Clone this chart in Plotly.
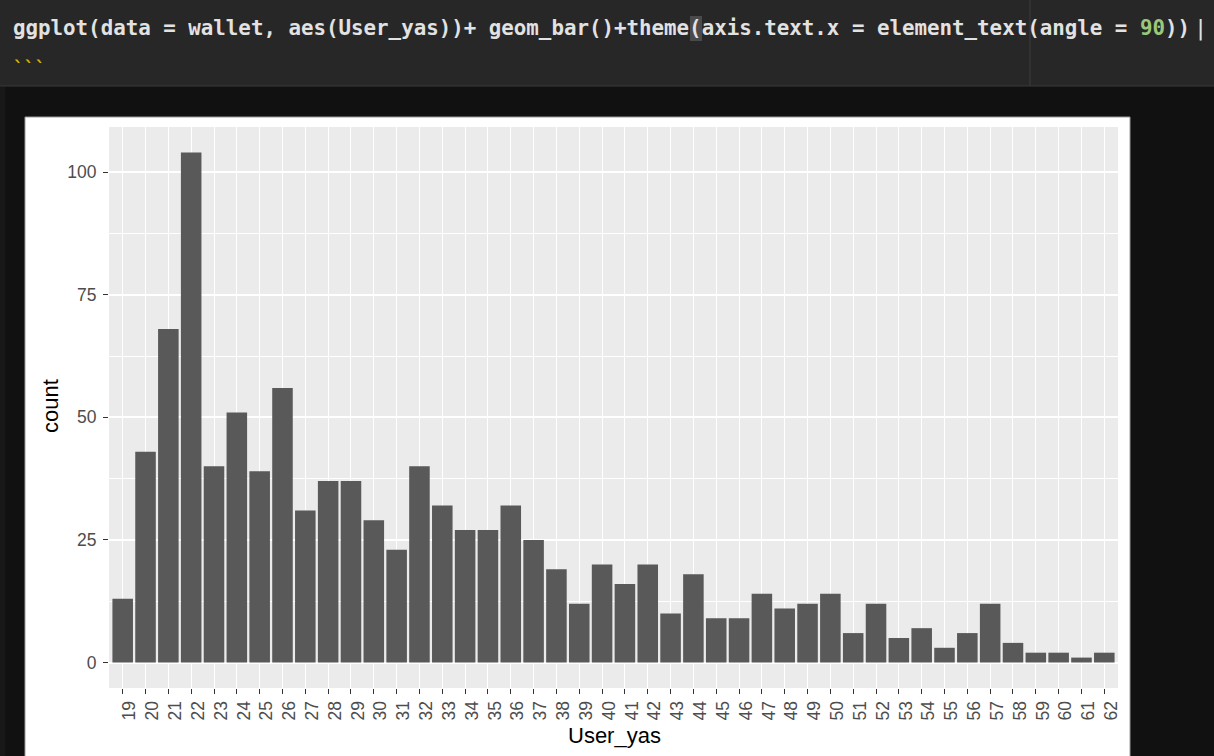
import plotly.graph_objects as go

# Count of users per age (User_yas)
ages = list(range(19, 63))
counts = [13, 43, 68, 104, 40, 51, 39, 56, 31, 37, 37, 29, 23, 40, 32, 27, 27, 32,
          25, 19, 12, 20, 16, 20, 10, 18, 9, 9, 14, 11, 12, 14, 6, 12, 5, 7, 3, 6,
          12, 4, 2, 2, 1, 2]
age_labels = [str(a) for a in ages]
y_ticks = [0, 25, 50, 75, 100]

W, H = 1214, 756
ML, MR, MT, MB = 109, 96, 127, 68
PW, PH = W - ML - MR, H - MT - MB


def fx(px):
    return (px - ML) / PW


def fy(py):
    return (H - MB - py) / PH


fig = go.Figure()
fig.add_trace(go.Bar(
    x=ages, y=counts, width=0.9,
    marker=dict(color="#595959", line=dict(width=0)),
    hoverinfo="x+y",
))

shapes = [
    # editor strip with the code line
    dict(type="rect", x0=fx(0), x1=fx(W), y0=fy(0), y1=fy(86),
         fillcolor="#272727", line=dict(width=0)),
    dict(type="line", x0=fx(0), x1=fx(W), y0=fy(86), y1=fy(86),
         line=dict(color="#3a3a3a", width=1)),
    dict(type="line", x0=fx(1030), x1=fx(1030), y0=fy(0), y1=fy(86),
         line=dict(color="#3c3c3c", width=1)),
    # bracket highlight
    dict(type="rect", x0=fx(690), x1=fx(702), y0=fy(16), y1=fy(41),
         fillcolor="#4a4a4a", line=dict(width=0)),
    # left edge strip
    dict(type="rect", x0=fx(0), x1=fx(5), y0=fy(87), y1=fy(H),
         fillcolor="#181818", line=dict(width=0)),
    # white chart panel
    dict(type="rect", x0=fx(25), x1=fx(1130), y0=fy(117), y1=fy(H + 2),
         fillcolor="#ffffff", line=dict(color="#9a9a9a", width=1)),
    # grey panel background behind the grid
    dict(type="rect", x0=0, x1=1, y0=0, y1=1,
         fillcolor="#ebebeb", line=dict(width=0)),
]
for s in shapes:
    s.update(xref="paper", yref="paper", layer="below")

code_line = ("<b>ggplot(data = wallet, aes(User_yas))+ geom_bar()+theme(axis.text.x = "
             "element_text(angle = <span style=\"color:#9cc87a\">90</span>))</b>")

annotations = [
    dict(text=code_line, x=fx(11), y=fy(28), xanchor="left", yanchor="middle",
         font=dict(family="DejaVu Sans Mono", size=20.8, color="#e2e2e2")),
    dict(text="|", x=fx(1192), y=fy(28), xanchor="left", yanchor="middle",
         font=dict(family="DejaVu Sans Mono", size=22, color="#e2e2e2")),
    dict(text="<b>```</b>", x=fx(11), y=fy(67), xanchor="left", yanchor="middle",
         font=dict(family="DejaVu Sans Mono", size=18, color="#d8b400")),
    dict(text="count", x=fx(50), y=fy(406), textangle=-90,
         xanchor="center", yanchor="middle",
         font=dict(family="Liberation Sans, Arial", size=22, color="#000000")),
    dict(text="User_yas", x=fx(614), y=fy(736), xanchor="center", yanchor="middle",
         font=dict(family="Liberation Sans, Arial", size=22, color="#000000")),
]
for a in annotations:
    a.update(xref="paper", yref="paper", showarrow=False)

tick_font = dict(family="Liberation Sans, Arial", size=17.5, color="#4d4d4d")

fig.update_layout(
    width=W, height=H,
    margin=dict(l=ML, r=MR, t=MT, b=MB, pad=0),
    paper_bgcolor="#111111",
    plot_bgcolor="#ebebeb",
    showlegend=False,
    bargap=0.1,
    shapes=shapes,
    annotations=annotations,
    xaxis=dict(
        range=[18.4, 62.6], tickmode="array", tickvals=ages, ticktext=age_labels,
        tickangle=-90, ticks="outside", ticklen=5, tickwidth=1.2, tickcolor="#333333",
        tickfont=tick_font, ticklabelshift=7,
        showgrid=True, gridcolor="#ffffff", gridwidth=1.2, zeroline=False,
        showline=False,
    ),
    yaxis=dict(
        range=[-5.2, 109.2], tickmode="array", tickvals=y_ticks,
        ticks="outside", ticklen=5, tickwidth=1.2, tickcolor="#333333",
        tickfont=tick_font, ticklabelstandoff=3,
        showgrid=True, gridcolor="#ffffff", gridwidth=1.6, zeroline=False,
        showline=False,
        minor=dict(tickmode="array", tickvals=[12.5, 37.5, 62.5, 87.5],
                   showgrid=True, gridcolor="#ffffff", gridwidth=0.8, ticks=""),
    ),
)

fig.write_html("out.html", config={"displayModeBar": False})
